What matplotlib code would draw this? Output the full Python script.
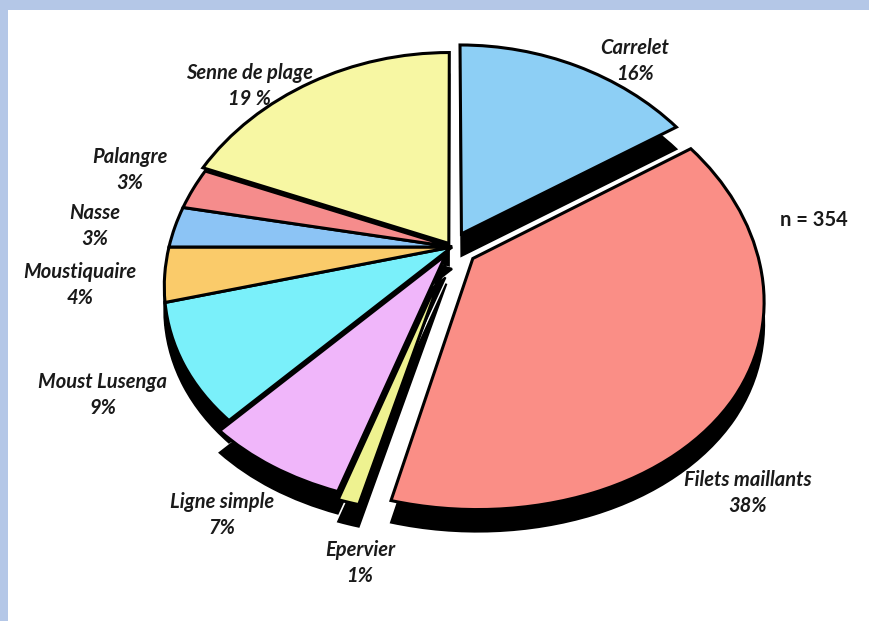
import numpy as np
import matplotlib.pyplot as plt
from matplotlib.patches import Rectangle
from matplotlib.transforms import Transform, Affine2D

# données : engins de pêche (n = 354)
categories = ["Carrelet", "Filets maillants", "Epervier", "Ligne simple",
              "Moust Lusenga", "Moustiquaire", "Nasse", "Palangre", "Senne de plage"]
percents = [16, 38, 1, 7, 9, 4, 3, 3, 19]
pct_labels = ["16%", "38%", "1%", "7%", "9%", "4%", "3%", "3%", "19 %"]
colors = ["#8DCFF5", "#FA8E86", "#EEF290", "#F0B6FA", "#7AF0FA",
          "#FACB6A", "#8CC4F5", "#F58C8C", "#F7F7A3"]
explode = [0.07, 0.09, 0.07, 0.045, 0, 0, 0, 0, 0.02]
# position des étiquettes (pixels, depuis le haut)
label_xy = [(635, 61), (748, 493), (360, 563), (222, 515), (103, 395),
            (80, 285), (95, 226), (130, 170), (250, 86)]


class Perspective(Transform):
    # petit effet de perspective : le haut du camembert est plus loin
    input_dims = output_dims = 2
    is_separable = False
    has_inverse = False

    def __init__(self, kx, ky):
        super().__init__()
        self.kx = kx
        self.ky = ky

    def transform_non_affine(self, xy):
        xy = np.asarray(xy, dtype=float)
        sx = 1.0 / (1.0 + self.kx * xy[:, 1])
        sy = 1.0 / (1.0 + self.ky * xy[:, 1])
        return np.column_stack([xy[:, 0] * sx, xy[:, 1] * sy])


W, H = 870, 621
fig = plt.figure(figsize=(W / 100, H / 100), dpi=100)
fig.patch.set_facecolor("#B4C7E7")
fig.add_artist(Rectangle((8 / W, 0), 1, 1 - 10 / H, transform=fig.transFigure,
                         facecolor="white", edgecolor="none", zorder=0))

ax = fig.add_axes([0, 0, 1, 1])
ax.set_facecolor("none")

persp = Perspective(0.18, 0.127)

# "épaisseur" 3D : copie noire décalée vers le bas
shadow, _ = ax.pie(percents, explode=explode, colors=["black"] * len(percents),
                   startangle=90, counterclock=False,
                   wedgeprops=dict(edgecolor="black", linewidth=1.5))
wedges, _ = ax.pie(percents, explode=explode, colors=colors, startangle=90,
                   counterclock=False, wedgeprops=dict(edgecolor="black", linewidth=2.2))

# centre (452, 247) px, rayons 283 x 216 px
cx, cy, rx, ry = 452, 247, 283, 216
ax.set_aspect("auto")
ax.set_xlim(-cx / rx, (W - cx) / rx)
ax.set_ylim((cy - H) / ry, cy / ry)
ax.axis("off")

down = Affine2D().translate(0, -22)
for w in shadow:
    w.set_transform(persp + ax.transData + down)
for w in wedges:
    w.set_transform(persp + ax.transData)

for name, pct, (x, y) in zip(categories, pct_labels, label_xy):
    fig.text(x / W, 1 - y / H, name + "\n" + pct, ha="center", va="center",
             fontsize=14.5, family="Lato", weight="bold", style="italic",
             color="#1a1a1a", linespacing=1.4)

fig.text(814 / W, 1 - 220 / H, "n = 354", ha="center", va="center",
         fontsize=14.5, family="Lato", weight="bold", color="#1a1a1a")

fig.savefig("out.png", dpi=100, facecolor=fig.get_facecolor())
